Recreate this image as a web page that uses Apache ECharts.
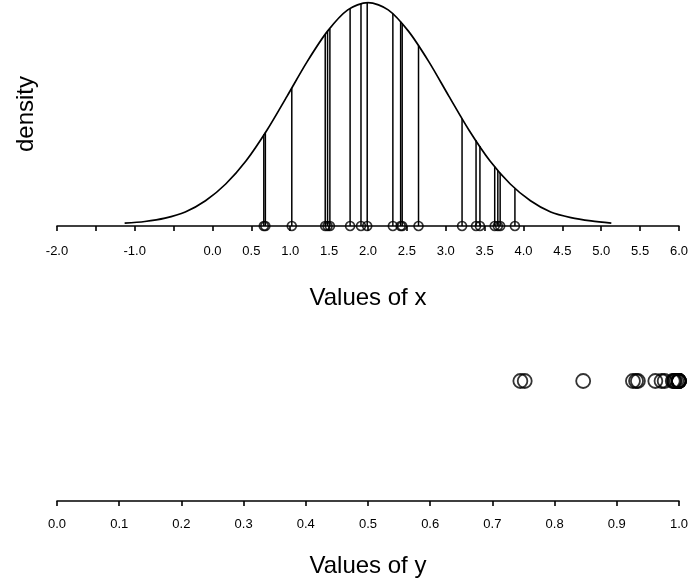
<!DOCTYPE html>
<html>
<head>
<meta charset="utf-8">
<script src="https://cdn.jsdelivr.net/npm/echarts@6/dist/echarts.min.js"></script>
<style>
    html, body { margin: 0; padding: 0; background: #fff; }
    #main { width: 691px; height: 586px; }
</style>
</head>
<body>
<div id="main"></div>
<script>
// sample points of x (circles on the upper axis) and the density height at each
var sampleX = [0.66, 0.68, 1.02, 1.45, 1.48, 1.51, 1.77, 1.91, 1.99, 2.32,
               2.42, 2.44, 2.65, 3.21, 3.39, 3.44, 3.63, 3.67, 3.70, 3.89];
var sampleDensity = [0.164, 0.167, 0.246, 0.343, 0.348, 0.352, 0.388, 0.397, 0.399, 0.379,
                     0.365, 0.362, 0.322, 0.192, 0.153, 0.143, 0.106, 0.098, 0.095, 0.067];

// density curve as drawn
var curveX = [-1.13, -0.87, -0.61, -0.35, -0.09, 0.17, 0.43, 0.70, 0.96, 1.22, 1.48, 1.74, 2.00,
              2.26, 2.52, 2.78, 3.04, 3.30, 3.57, 3.83, 4.09, 4.35, 4.61, 4.87, 5.13];
var curveDensity = [0.005, 0.008, 0.014, 0.025, 0.045, 0.075, 0.116, 0.171, 0.232, 0.294, 0.348, 0.386, 0.399,
                    0.386, 0.348, 0.294, 0.232, 0.171, 0.116, 0.075, 0.045, 0.025, 0.015, 0.009, 0.005];

// values of y (circles in the lower panel)
var sampleY = [0.745, 0.752, 0.846, 0.926, 0.931, 0.934, 0.962, 0.972, 0.977, 0.990,
               0.992, 0.993, 0.996, 0.9993, 0.9997, 0.9997, 0.9999, 0.9999, 0.9999, 1.0];

// tick positions on the x axis that carry no label
var unlabelledX = [-1.5, -0.5];

var font = 'Liberation Sans, Arial, sans-serif';

var chart = echarts.init(document.getElementById('main'));

var option = {
    animation: false,
    backgroundColor: '#fff',
    grid: [
        {left: 57, right: 10, top: 2, height: 224},
        {left: 57, right: 10, top: 261, height: 240}
    ],
    xAxis: [
        {
            gridIndex: 0,
            type: 'value',
            min: -2,
            max: 6,
            interval: 0.5,
            name: 'Values of x',
            nameLocation: 'middle',
            nameGap: 60,
            nameTextStyle: {fontFamily: font, fontSize: 24, color: '#000'},
            axisLine: {lineStyle: {color: '#000', width: 1.6}},
            axisTick: {length: 5, lineStyle: {color: '#000', width: 1.6}},
            axisLabel: {
                margin: 19,
                color: '#000',
                fontFamily: font,
                fontSize: 13,
                showMinLabel: true,
                showMaxLabel: true,
                formatter: function (v) {
                    return unlabelledX.indexOf(v) >= 0 ? '' : v.toFixed(1);
                }
            },
            splitLine: {show: false}
        },
        {
            gridIndex: 1,
            type: 'value',
            min: 0,
            max: 1,
            interval: 0.1,
            name: 'Values of y',
            nameLocation: 'middle',
            nameGap: 53,
            nameTextStyle: {fontFamily: font, fontSize: 24, color: '#000'},
            axisLine: {lineStyle: {color: '#000', width: 1.6}},
            axisTick: {length: 5, lineStyle: {color: '#000', width: 1.6}},
            axisLabel: {
                margin: 17,
                color: '#000',
                fontFamily: font,
                fontSize: 13,
                showMinLabel: true,
                showMaxLabel: true,
                formatter: function (v) { return v.toFixed(1); }
            },
            splitLine: {show: false}
        }
    ],
    yAxis: [
        {
            gridIndex: 0,
            type: 'value',
            min: 0,
            max: 0.4,
            name: 'density',
            nameLocation: 'middle',
            nameRotate: 90,
            nameGap: 19,
            nameTextStyle: {fontFamily: font, fontSize: 24, color: '#000'},
            axisLine: {show: false},
            axisTick: {show: false},
            axisLabel: {show: false},
            splitLine: {show: false}
        },
        {
            gridIndex: 1,
            type: 'value',
            min: 0,
            max: 2,
            show: false
        }
    ],
    series: [
        {
            type: 'line',
            xAxisIndex: 0,
            yAxisIndex: 0,
            data: curveX.map(function (x, i) { return [x, curveDensity[i]]; }),
            showSymbol: false,
            smooth: 0.3,
            lineStyle: {color: '#000', width: 1.7}
        },
        {
            type: 'custom',
            xAxisIndex: 0,
            yAxisIndex: 0,
            data: sampleX.map(function (x, i) { return [x, sampleDensity[i]]; }),
            renderItem: function (params, api) {
                var p0 = api.coord([api.value(0), 0]);
                var p1 = api.coord([api.value(0), api.value(1)]);
                return {
                    type: 'line',
                    shape: {x1: p0[0], y1: p0[1], x2: p1[0], y2: p1[1]},
                    style: {stroke: '#000', lineWidth: 1.5}
                };
            }
        },
        {
            type: 'scatter',
            xAxisIndex: 0,
            yAxisIndex: 0,
            clip: false,
            symbol: 'circle',
            symbolSize: 9,
            data: sampleX.map(function (x) { return [x, 0]; }),
            itemStyle: {color: 'rgba(0,0,0,0)', borderColor: '#000', borderWidth: 1.6}
        },
        {
            type: 'scatter',
            xAxisIndex: 1,
            yAxisIndex: 1,
            clip: false,
            symbol: 'circle',
            symbolSize: 14,
            data: sampleY.map(function (y) { return [y, 1]; }),
            itemStyle: {color: 'rgba(0,0,0,0)', borderColor: '#000', borderWidth: 1.8}
        }
    ]
};

chart.setOption(option);
</script>
</body>
</html>
